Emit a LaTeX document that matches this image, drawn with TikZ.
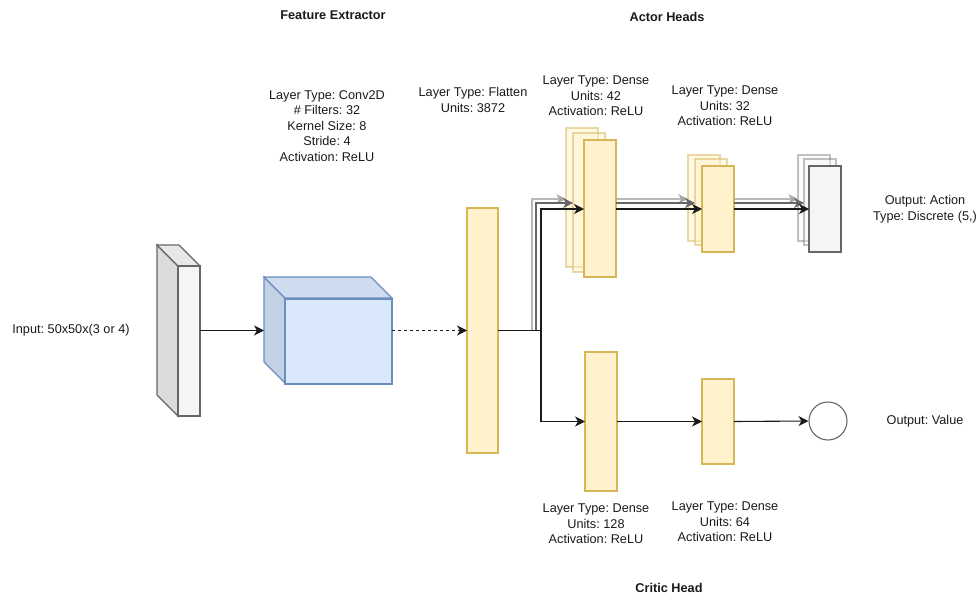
\documentclass[tikz,border=0pt]{standalone}
\usepackage{fontspec}
\setmainfont{Liberation Sans}
\usetikzlibrary{arrows.meta}
\frenchspacing

\definecolor{layerfill}{HTML}{FFF2CC}
\definecolor{layerline}{HTML}{D6B656}
\definecolor{convfront}{HTML}{DAE8FC}
\definecolor{convside}{HTML}{C4D1E4}
\definecolor{convtop}{HTML}{CFDCF0}
\definecolor{convline}{HTML}{6C8EBF}
\definecolor{greyfront}{HTML}{F5F5F5}
\definecolor{greyside}{HTML}{DCDCDC}
\definecolor{greytop}{HTML}{E8E8E8}
\definecolor{greyline}{HTML}{666666}
\definecolor{txt}{HTML}{1A1A1A}

\begin{document}
\begin{tikzpicture}[x=1pt, y=-1pt, line width=1.1pt,
	box/.style={rectangle, anchor=north west, inner sep=0pt, outer sep=0pt},
	dense/.style={box, draw=layerline, fill=layerfill},
	ghost/.style={dense, draw opacity=0.5, fill opacity=0.5},
	outbox/.style={box, draw=greyline, fill=greyfront},
	outghost/.style={outbox, draw opacity=0.4, fill opacity=0.4},
	conn/.style={-{Stealth[length=10pt, width=10pt, inset=3pt]}, txt},
	fade/.style={conn, black!35, draw opacity=0.8},
	half/.style={conn, black!60},
	lbl/.style={align=center, inner sep=0pt, text=txt, font=\fontsize{12.7}{15.6}\selectfont},
	title/.style={lbl, font=\fontsize{12.7}{15.6}\selectfont\bfseries}]
	\useasboundingbox (0,0) rectangle (979,597);
	
	\coordinate (t1) at (0,199);
	\coordinate (t2) at (0,203);
	\coordinate (t3) at (0,209);
	
	\node[box, minimum width=43pt, minimum height=171pt] (inp) at (157,245) {};
	\draw[draw=greyline, fill=greyside] (inp.north west) -- ++(21,21) -- ++(0,150) -- ++(-21,-21) -- cycle;
	\draw[draw=greyline, fill=greytop] (inp.north west) -- ++(22,0) -- ++(21,21) -- ++(-22,0) -- cycle;
	\draw[draw=greyline, fill=greyfront] (inp.south east) rectangle ++(-22,-150);
	
	\node[box, minimum width=128pt, minimum height=107pt] (conv) at (264,277) {};
	\draw[draw=convline, fill=convside] (conv.north west) -- ++(21,21) -- ++(0,85) -- ++(-21,-21) -- cycle;
	\draw[draw=convline, fill=convtop] (conv.north west) -- ++(107,0) -- ++(21,21) -- ++(-107,0) -- cycle;
	\draw[draw=convline, fill=convfront] (conv.south east) rectangle ++(-107,-85);
	
	\node[dense, minimum width=31pt, minimum height=245pt] (fl) at (467,208) {};
	
	\node[ghost, minimum width=32pt, minimum height=139pt] (a1s) at (566,128) {};
	\node[ghost, minimum width=32pt, minimum height=139pt] (a1m) at (573,133) {};
	\node[dense, minimum width=32pt, minimum height=137pt] (a1) at (584,140) {};
	
	\node[ghost, minimum width=32pt, minimum height=86pt] (a2s) at (688,155) {};
	\node[ghost, minimum width=32pt, minimum height=86pt] (a2m) at (695,159) {};
	\node[dense, minimum width=32pt, minimum height=86pt] (a2) at (702,166) {};
	
	\node[outghost, minimum width=32pt, minimum height=86pt] (outs) at (798,155) {};
	\node[outghost, minimum width=32pt, minimum height=86pt] (outm) at (804,159) {};
	\node[outbox, minimum width=32pt, minimum height=86pt] (out) at (809,166) {};
	
	\node[dense, minimum width=32pt, minimum height=139pt] (c1) at (585,352) {};
	\node[dense, minimum width=32pt, minimum height=85pt] (c2) at (702,379) {};
	\node[circle, draw=greyline, fill=white, minimum size=38pt, inner sep=0pt] (val) at (828,421) {};
	
	\draw[conn] (inp.east) -- (conv.west);
	\draw[conn, dashed] (conv.east) -- (fl.west);
	
	\draw[fade] (fl.east) -- ++(34,0) |- (a1s.west |- t1);
	\draw[half] (fl.east) -- ++(38,0) |- (a1m.west |- t2);
	\draw[conn] (fl.east) -- ++(43,0) |- (a1.west |- t3);
	\draw[conn] (fl.east) -- ++(43,0) |- (c1.west);
	
	\draw[fade] (a1.east |- t1) -- (a2s.west |- t1);
	\draw[half] (a1.east |- t2) -- (a2m.west |- t2);
	\draw[conn] (a1.east |- t3) -- (a2.west |- t3);
	
	\draw[fade] (a2.east |- t1) -- (outs.west |- t1);
	\draw[half] (a2.east |- t2) -- (outm.west |- t2);
	\draw[conn] (a2.east |- t3) -- (out.west |- t3);
	
	\draw[conn] (c1.east) -- (c2.west);
	\draw[conn] (c2.east) -- (val.west);
	
	\node[title] (fetitle) at (333,15) {Feature Extractor};
	\node[title] (actitle) at (667,17) {Actor Heads};
	\node[title] (crtitle) at (669,588) {Critic Head};
	
	\node[lbl] (inplbl) at (71,330) {Input: 50x50x(3 or 4)};
	\node[lbl] (convlbl) at (327,126) {Layer Type: Conv2D\\\# Filters: 32\\Kernel Size: 8\\Stride: 4\\Activation: ReLU};
	\node[lbl] (fllbl) at (473,100) {Layer Type: Flatten\\Units: 3872};
	\node[lbl] (a1lbl) at (596,96) {Layer Type: Dense\\Units: 42\\Activation: ReLU};
	\node[lbl] (a2lbl) at (725,106) {Layer Type: Dense\\Units: 32\\Activation: ReLU};
	\node[lbl] (outlbl) at (925,209) {Output: Action\\Type: Discrete (5,)};
	\node[lbl] (vallbl) at (925,421) {Output: Value};
	\node[lbl] (c1lbl) at (596,524) {Layer Type: Dense\\Units: 128\\Activation: ReLU};
	\node[lbl] (c2lbl) at (725,522) {Layer Type: Dense\\Units: 64\\Activation: ReLU};
\end{tikzpicture}
\end{document}
